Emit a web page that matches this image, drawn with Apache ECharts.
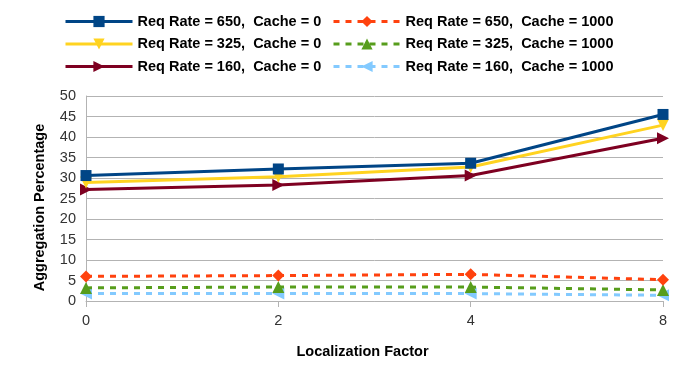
<!DOCTYPE html>
<html><head><meta charset="utf-8">
<script src="https://cdn.jsdelivr.net/npm/echarts@6/dist/echarts.min.js"></script>
<style>html,body{margin:0;padding:0;background:#fff}#c{width:680px;height:383px}</style>
</head><body><div id="c"></div>
<script>
const categories = ['0', '2', '4', '8'];
const seriesNames = [
  'Req Rate = 650,  Cache = 0',
  'Req Rate = 325,  Cache = 0',
  'Req Rate = 160,  Cache = 0',
  'Req Rate = 650,  Cache = 1000',
  'Req Rate = 325,  Cache = 1000',
  'Req Rate = 160,  Cache = 1000'
];
const rate650cache0 = [30.6, 32.2, 33.6, 45.5];
const rate325cache0 = [28.9, 30.3, 32.7, 42.9];
const rate160cache0 = [27.2, 28.3, 30.6, 39.7];
const rate650cache1000 = [6.0, 6.2, 6.5, 5.2];
const rate325cache1000 = [3.2, 3.4, 3.4, 2.7];
const rate160cache1000 = [1.8, 1.8, 1.8, 1.4];
const yTicks = {min: 0, max: 50, interval: 5};

const colors = ['#004586', '#ffd320', '#7e0021', '#ff420e', '#579d1c', '#83caff'];
const symbols = ['rect', 'triangle', 'triangle', 'diamond', 'triangle', 'triangle'];
const rotates = [0, 180, -90, 0, 0, 90];
const sizes = [11, 12, 12, 12, 12, 12];
const dataSets = [rate650cache0, rate325cache0, rate160cache0, rate650cache1000, rate325cache1000, rate160cache1000];

const font = 'Liberation Sans, Arial, sans-serif';
const series = dataSets.map((d, i) => ({
  name: seriesNames[i],
  type: 'line',
  data: d,
  symbol: symbols[i],
  symbolRotate: rotates[i],
  symbolSize: sizes[i],
  showAllSymbol: true,
  lineStyle: {width: 3, color: colors[i], type: i < 3 ? 'solid' : [6, 6]},
  itemStyle: {color: colors[i]},
  emphasis: {disabled: true},
  animation: false,
  z: 10 - i
}));

const legendCommon = {
  orient: 'vertical',
  itemWidth: 67,
  itemHeight: 14,
  itemGap: 7.5,
  top: 9,
  textStyle: {fontFamily: font, fontSize: 14.5, fontWeight: 'bold', color: '#000'},
  lineStyle: {width: 3},
  selectedMode: false
};

const chart = echarts.init(document.getElementById('c'), null, {renderer: 'canvas'});
chart.setOption({
  backgroundColor: '#fff',
  color: colors,
  legend: [
    Object.assign({}, legendCommon, {left: 59, data: seriesNames.slice(0, 3)}),
    Object.assign({}, legendCommon, {left: 327, data: seriesNames.slice(3)})
  ],
  grid: {left: 86, right: 17, top: 96, bottom: 82},
  xAxis: {
    type: 'category',
    data: categories,
    boundaryGap: false,
    name: 'Localization Factor',
    nameLocation: 'middle',
    nameGap: 43,
    nameTextStyle: {fontFamily: font, fontSize: 14.5, fontWeight: 'bold', color: '#000', padding: [0, 24, 0, 0]},
    axisLine: {lineStyle: {color: '#b3b3b3', width: 1}},
    axisTick: {show: true, alignWithLabel: true, length: 6, lineStyle: {color: '#b3b3b3'}},
    axisLabel: {fontFamily: font, fontSize: 14.5, color: '#333', margin: 12},
    splitLine: {show: false}
  },
  yAxis: {
    type: 'value',
    min: yTicks.min, max: yTicks.max, interval: yTicks.interval,
    name: 'Aggregation Percentage',
    nameLocation: 'middle',
    nameGap: 39,
    nameTextStyle: {fontFamily: font, fontSize: 14.5, fontWeight: 'bold', color: '#000', padding: [0, 18, 0, 0]},
    axisLine: {show: true, lineStyle: {color: '#b3b3b3', width: 1}},
    axisTick: {show: false},
    axisLabel: {fontFamily: font, fontSize: 14.5, color: '#333', margin: 10},
    splitLine: {show: true, lineStyle: {color: '#b3b3b3', width: 1}}
  },
  series: series
});
</script></body></html>
